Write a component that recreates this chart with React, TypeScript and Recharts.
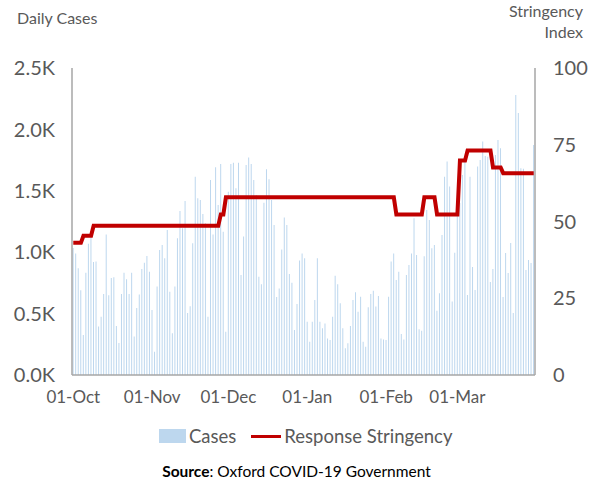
import React from 'react';
import { ComposedChart, Bar, Line, XAxis, YAxis } from 'recharts';

// daily cases, one array per month
const casesOct = [1034, 990, 870, 690, 326, 833, 1068, 1120, 920, 925, 394, 475, 660, 1145, 650, 790, 795, 400, 260, 660, 833, 780, 660, 833, 313, 545, 655, 863, 915, 970, 840];
const casesNov = [530, 190, 720, 1018, 1059, 950, 1181, 678, 340, 720, 1113, 1335, 1195, 1417, 505, 560, 1073, 1615, 1439, 1425, 1311, 1235, 475, 1588, 1145, 1691, 1384, 1718, 1167, 352];
const casesDec = [1493, 1718, 1729, 1520, 1729, 814, 1127, 1710, 1772, 1718, 1588, 1466, 800, 740, 1403, 1675, 1594, 1425, 1222, 636, 704, 1021, 1282, 1222, 822, 751, 366, 578, 932, 990, 950];
const casesJan = [434, 271, 434, 611, 950, 434, 380, 420, 298, 285, 475, 809, 740, 584, 380, 217, 258, 399, 611, 673, 516, 638, 271, 230, 551, 660, 687, 557, 644, 298, 290];
const casesFeb = [285, 638, 924, 990, 773, 841, 333, 290, 814, 896, 990, 1276, 977, 372, 361, 968, 1344, 1262, 1032, 1059, 524, 665, 1140, 1615, 1738, 1534, 598, 995];
const casesMar = [1425, 1400, 1629, 1751, 651, 1615, 879, 692, 1697, 1751, 1901, 1783, 1778, 757, 863, 1791, 1914, 1846, 635, 993, 831, 1075, 505, 2280, 2133, 1683, 1680, 855, 936, 912, 1873];

// response stringency index per day
const stringOct = [43.06, 43.06, 43.06, 43.06, 45.37, 45.37, 45.37, 45.37, 48.61, 48.61, 48.61, 48.61, 48.61, 48.61, 48.61, 48.61, 48.61, 48.61, 48.61, 48.61, 48.61, 48.61, 48.61, 48.61, 48.61, 48.61, 48.61, 48.61, 48.61, 48.61, 48.61];
const stringNov = [48.61, 48.61, 48.61, 48.61, 48.61, 48.61, 48.61, 48.61, 48.61, 48.61, 48.61, 48.61, 48.61, 48.61, 48.61, 48.61, 48.61, 48.61, 48.61, 48.61, 48.61, 48.61, 48.61, 48.61, 48.61, 48.61, 48.61, 52.31, 52.31, 57.87];
const stringDec = [57.87, 57.87, 57.87, 57.87, 57.87, 57.87, 57.87, 57.87, 57.87, 57.87, 57.87, 57.87, 57.87, 57.87, 57.87, 57.87, 57.87, 57.87, 57.87, 57.87, 57.87, 57.87, 57.87, 57.87, 57.87, 57.87, 57.87, 57.87, 57.87, 57.87, 57.87];
const stringJan = [57.87, 57.87, 57.87, 57.87, 57.87, 57.87, 57.87, 57.87, 57.87, 57.87, 57.87, 57.87, 57.87, 57.87, 57.87, 57.87, 57.87, 57.87, 57.87, 57.87, 57.87, 57.87, 57.87, 57.87, 57.87, 57.87, 57.87, 57.87, 57.87, 57.87, 57.87];
const stringFeb = [57.87, 57.87, 57.87, 57.87, 52.31, 52.31, 52.31, 52.31, 52.31, 52.31, 52.31, 52.31, 52.31, 52.31, 52.31, 57.87, 57.87, 57.87, 57.87, 57.87, 52.31, 52.31, 52.31, 52.31, 52.31, 52.31, 52.31, 52.31];
const stringMar = [52.31, 69.91, 69.91, 69.91, 73.15, 73.15, 73.15, 73.15, 73.15, 73.15, 73.15, 73.15, 73.15, 73.15, 67.59, 67.59, 67.59, 67.59, 65.74, 65.74, 65.74, 65.74, 65.74, 65.74, 65.74, 65.74, 65.74, 65.74, 65.74, 65.74, 65.74];

const months = ['Oct', 'Nov', 'Dec', 'Jan', 'Feb', 'Mar'];
const xTicks = ['01-Oct', '01-Nov', '01-Dec', '01-Jan', '01-Feb', '01-Mar'];
const casesTicks = [0, 500, 1000, 1500, 2000, 2500];
const stringencyTicks = [0, 25, 50, 75, 100];

const casesByMonth = [casesOct, casesNov, casesDec, casesJan, casesFeb, casesMar];
const stringByMonth = [stringOct, stringNov, stringDec, stringJan, stringFeb, stringMar];

const data = casesByMonth.flatMap((arr, m) =>
  arr.map((v, i) => ({
    date: `${String(i + 1).padStart(2, '0')}-${months[m]}`,
    cases: v,
    stringency: stringByMonth[m][i],
  }))
);

const FONT = 'Lato, "Open Sans", sans-serif';
const GREY = '#595959';
const AXIS = '#a6a6a6';

export default function App() {
  return (
    <div style={{ position: 'absolute', left: 0, top: 0, width: 593, height: 482, background: '#fff', fontFamily: FONT }}>
      <ComposedChart width={593} height={482} data={data} margin={{ top: 68, right: 0, left: 0, bottom: 77 }} barCategoryGap="25%">
        <XAxis
          dataKey="date"
          ticks={xTicks}
          interval={0}
          tickLine={false}
          axisLine={{ stroke: AXIS, strokeWidth: 1.5 }}
          tick={{ fill: GREY, fontSize: 17, fontFamily: FONT }}
          tickMargin={10}
          height={30}
        />
        <YAxis
          yAxisId="left"
          domain={[0, 2500]}
          ticks={casesTicks}
          width={72}
          tickLine={false}
          axisLine={{ stroke: AXIS, strokeWidth: 1.5 }}
          tick={{ fill: GREY, fontSize: 20, fontFamily: FONT }}
          tickMargin={11}
          tickFormatter={(v: number) => `${(v / 1000).toFixed(1)}K`}
        />
        <YAxis
          yAxisId="right"
          orientation="right"
          domain={[0, 100]}
          ticks={stringencyTicks}
          width={58}
          tickLine={false}
          axisLine={{ stroke: AXIS, strokeWidth: 1.5 }}
          tick={{ fill: GREY, fontSize: 20, fontFamily: FONT }}
          tickMargin={12}
        />
        <Bar yAxisId="left" dataKey="cases" fill="#bdd7ee" isAnimationActive={false} />
        <Line yAxisId="right" type="linear" dataKey="stringency" stroke="#c00000" strokeWidth={4} dot={false} isAnimationActive={false} />
      </ComposedChart>

      <div style={{ position: 'absolute', left: 17, top: 8, fontSize: 16, color: GREY }}>Daily Cases</div>
      <div style={{ position: 'absolute', right: 10, top: 0, fontSize: 16, color: GREY, textAlign: 'right', lineHeight: '21px' }}>
        Stringency
        <br />
        Index
      </div>

      <div style={{ position: 'absolute', left: 159, top: 425, display: 'flex', alignItems: 'center', fontSize: 18.5, color: GREY }}>
        <span style={{ display: 'inline-block', width: 27, height: 14, background: '#bdd7ee', marginRight: 3 }} />
        <span>Cases</span>
        <span style={{ display: 'inline-block', width: 30, height: 3, background: '#c00000', margin: '0 3px 0 15px' }} />
        <span>Response Stringency</span>
      </div>

      <div style={{ position: 'absolute', left: 0, width: 593, top: 462, textAlign: 'center', fontSize: 15.5, color: '#000' }}>
        <b>Source</b>: Oxford COVID-19 Government
      </div>
    </div>
  );
}
